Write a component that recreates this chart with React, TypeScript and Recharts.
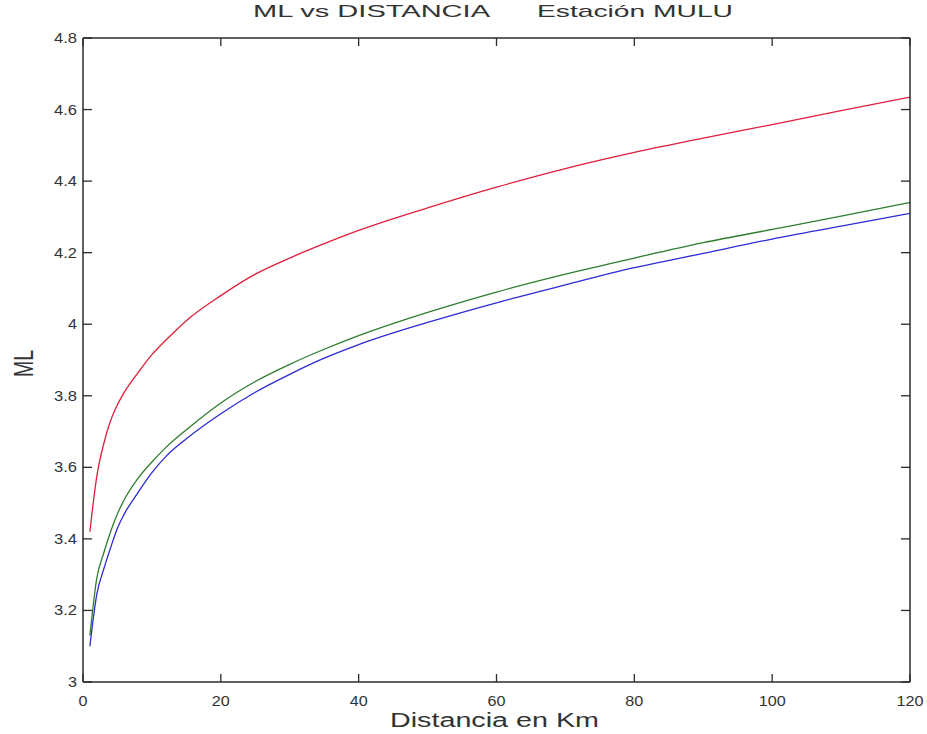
import React from "react";
import { LineChart, Line, XAxis, YAxis } from "recharts";

// distance (km) and ML
const distances = [1, 2, 3, 4, 5, 6, 8, 10, 12, 15, 20, 25, 30, 35, 40, 50, 60, 70, 80, 90, 100, 110, 120];
const mlRed = [3.42, 3.575, 3.665, 3.73, 3.775, 3.81, 3.865, 3.915, 3.955, 4.01, 4.08, 4.14, 4.185, 4.225, 4.262, 4.325, 4.383, 4.435, 4.48, 4.52, 4.558, 4.597, 4.635];
const mlGreen = [3.13, 3.29, 3.36, 3.42, 3.47, 3.51, 3.57, 3.615, 3.655, 3.705, 3.78, 3.84, 3.888, 3.93, 3.968, 4.033, 4.09, 4.14, 4.185, 4.228, 4.265, 4.302, 4.34];
const mlBlue = [3.1, 3.245, 3.315, 3.375, 3.43, 3.47, 3.53, 3.585, 3.63, 3.68, 3.75, 3.81, 3.86, 3.905, 3.943, 4.005, 4.06, 4.11, 4.158, 4.198, 4.238, 4.274, 4.31];

const xTicks = [0, 20, 40, 60, 80, 100, 120];
const yTicks = [3, 3.2, 3.4, 3.6, 3.8, 4, 4.2, 4.4, 4.6, 4.8];

const data = distances.map((d, i) => ({
  d,
  red: mlRed[i],
  green: mlGreen[i],
  blue: mlBlue[i],
}));

const FONT = "'Liberation Sans', Arial, Helvetica, sans-serif";
const AXIS = "#2b2b2b";
const LABEL = "#333";

const labelWidth = (s: string) =>
  s.split("").reduce((w, ch) => w + (ch === "." ? 5 : 9), 0);

const BottomTick = (props: any) => {
  const { x, y, payload } = props;
  const s = String(payload.value);
  return (
    <g>
      <line x1={x} x2={x} y1={y} y2={y - 8} stroke={AXIS} strokeWidth={1.3} />
      <text
        x={x}
        y={y + 24}
        textAnchor="middle"
        fontSize={14}
        fontFamily={FONT}
        fill={LABEL}
        textLength={labelWidth(s)}
        lengthAdjust="spacingAndGlyphs"
      >
        {s}
      </text>
    </g>
  );
};

const TopTick = (props: any) => {
  const { x, y } = props;
  return <line x1={x} x2={x} y1={y} y2={y + 8} stroke={AXIS} strokeWidth={1.3} />;
};

const LeftTick = (props: any) => {
  const { x, y, payload } = props;
  const s = String(payload.value);
  return (
    <g>
      <line x1={x} x2={x + 9} y1={y} y2={y} stroke={AXIS} strokeWidth={1.3} />
      <text
        x={x - 6}
        y={y + 5}
        textAnchor="end"
        fontSize={14}
        fontFamily={FONT}
        fill={LABEL}
        textLength={labelWidth(s)}
        lengthAdjust="spacingAndGlyphs"
      >
        {s}
      </text>
    </g>
  );
};

const RightTick = (props: any) => {
  const { x, y } = props;
  return <line x1={x} x2={x - 9} y1={y} y2={y} stroke={AXIS} strokeWidth={1.3} />;
};

export default function App() {
  return (
    <div style={{ position: "absolute", left: 0, top: 0, width: 927, height: 734, background: "#fff" }}>
      <LineChart
        width={927}
        height={734}
        data={data}
        margin={{ top: 37, right: 16, left: 0, bottom: 0 }}
      >
        <XAxis
          dataKey="d"
          type="number"
          domain={[0, 120]}
          ticks={xTicks}
          height={52}
          tickSize={0}
          tickMargin={0}
          tickLine={false}
          stroke={AXIS}
          strokeWidth={1.5}
          tick={<BottomTick />}
          allowDataOverflow
        />
        <XAxis
          xAxisId="top"
          orientation="top"
          dataKey="d"
          type="number"
          domain={[0, 120]}
          ticks={xTicks}
          height={1}
          tickSize={0}
          tickMargin={0}
          tickLine={false}
          stroke={AXIS}
          strokeWidth={1.5}
          tick={<TopTick />}
          allowDataOverflow
        />
        <YAxis
          type="number"
          domain={[3, 4.8]}
          ticks={yTicks}
          width={83}
          tickSize={0}
          tickMargin={0}
          tickLine={false}
          stroke={AXIS}
          strokeWidth={1.5}
          tick={<LeftTick />}
          allowDataOverflow
        />
        <YAxis
          yAxisId="right"
          orientation="right"
          type="number"
          domain={[3, 4.8]}
          ticks={yTicks}
          width={1}
          tickSize={0}
          tickMargin={0}
          tickLine={false}
          stroke={AXIS}
          strokeWidth={1.5}
          tick={<RightTick />}
          allowDataOverflow
        />
        <Line
          xAxisId="top"
          yAxisId="right"
          dataKey="red"
          stroke="#e01e3c"
          strokeWidth={1.3}
          dot={false}
          type="monotone"
          isAnimationActive={false}
        />
        <Line dataKey="green" stroke="#2e7d2e" strokeWidth={1.3} dot={false} type="monotone" isAnimationActive={false} />
        <Line dataKey="blue" stroke="#2b2bd6" strokeWidth={1.3} dot={false} type="monotone" isAnimationActive={false} />
      </LineChart>
      <svg
        width={927}
        height={734}
        style={{ position: "absolute", left: 0, top: 0, pointerEvents: "none" }}
      >
        <text x={253} y={17} fontSize={17} fontFamily={FONT} fill={LABEL} textLength={237} lengthAdjust="spacingAndGlyphs">
          ML vs DISTANCIA
        </text>
        <text x={537} y={17} fontSize={17} fontFamily={FONT} fill={LABEL} textLength={196} lengthAdjust="spacingAndGlyphs">
          Estación MULU
        </text>
        <text x={390} y={727} fontSize={20} fontFamily={FONT} fill={LABEL} textLength={209} lengthAdjust="spacingAndGlyphs">
          Distancia en Km
        </text>
        <text
          transform="translate(33,363.5) rotate(-90)"
          textAnchor="middle"
          fontSize={27}
          fontFamily={FONT}
          fill={LABEL}
          textLength={27}
          lengthAdjust="spacingAndGlyphs"
        >
          ML
        </text>
      </svg>
    </div>
  );
}
